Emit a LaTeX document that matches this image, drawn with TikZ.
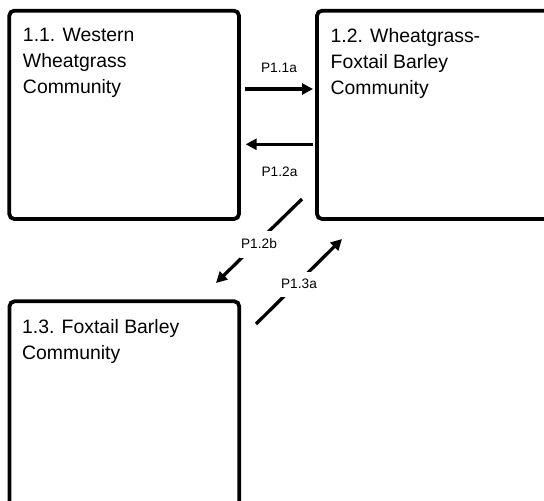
\documentclass[tikz,border=0pt]{standalone}
\usepackage{fontspec}
\setmainfont{Liberation Sans}
\usetikzlibrary{arrows.meta,positioning,calc}
\tikzset{
statebox/.style = {draw, fill=white, rectangle, rounded corners=5pt, line width=3.8pt, inner sep=0pt, outer sep=0pt},
statetext/.style = {anchor=north west, align=left, inner sep=0pt, font=\fontsize{19.4}{26}\selectfont},
trans/.style = {->, line width=3.3pt},
lbl/.style = {font=\fontsize{13.7}{16}\selectfont, inner sep=1pt},
gap/.style = {lbl, fill=white, inner xsep=1pt}
}

\begin{document}
\begin{tikzpicture}[x=1pt, y=-1pt, >={Triangle[length=11pt,width=11pt]}]
    \useasboundingbox (0,0) rectangle (544,501);
    \clip (0,0) rectangle (544,501);
    % communities
    \node [statebox, minimum width=229.7pt, minimum height=208.3pt] (comm1) at (124.15,114.85) {};
    \node [statebox, minimum width=303pt, minimum height=208.3pt] (comm2) at (468.5,114.85) {};
    \node [statebox, minimum width=229.7pt, minimum height=318.7pt] (comm3) at (124.35,460.65) {};
    \node [statetext] (txt1) at ([shift={(13.5,17.7)}]comm1.north west) {1.1. Western\\Wheatgrass\\Community};
    \node [statetext] (txt2) at ([shift={(13.5,17.7)}]comm2.north west) {1.2. Wheatgrass-\\Foxtail Barley\\Community};
    \node [statetext] (txt3) at ([shift={(12.5,17.8)}]comm3.north west) {1.3. Foxtail Barley\\Community};
    % pathways
    \draw [trans] ([shift={(6,78.3)}]comm1.north east) -- node[lbl, yshift=20.7pt]{P1.1a} ([shift={(-4,78.3)}]comm2.north west);
    \draw [trans] ([shift={(-3.7,133.6)}]comm2.north west) -- node[lbl, yshift=-27.4pt]{P1.2a} ([shift={(6.7,133.6)}]comm1.north east);
    \draw [trans] ([shift={(-15,-20)}]comm2.south west) -- node[gap, minimum height=27pt, yshift=-3pt]{P1.2b} ([shift={(-23.2,-18.3)}]comm3.north east);
    \draw [trans] ([shift={(16.8,22.7)}]comm3.north east) -- node[gap, minimum height=25pt, yshift=-2.5pt]{P1.3a} ([shift={(25,20)}]comm2.south west);
\end{tikzpicture}
\end{document}
